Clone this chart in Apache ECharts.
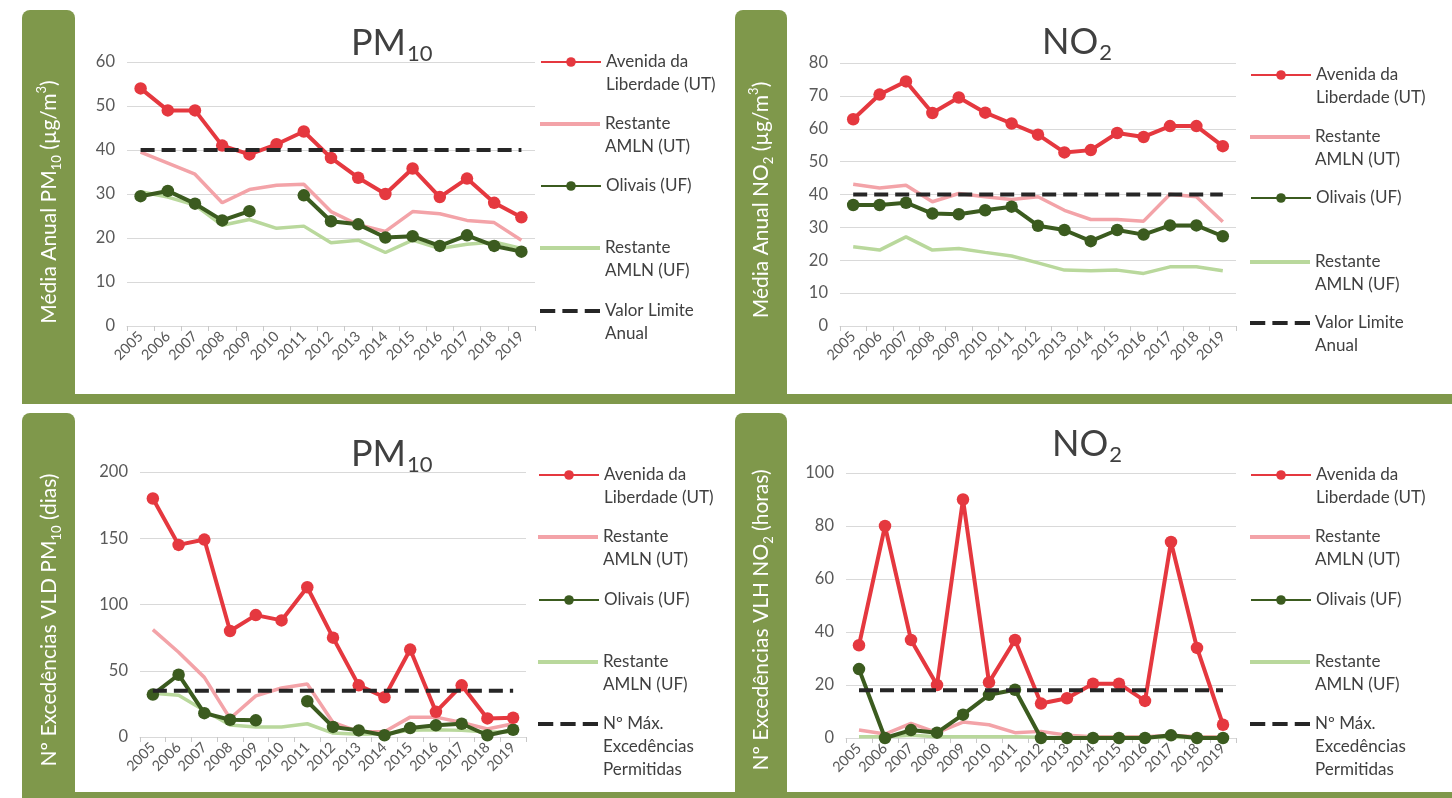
<!DOCTYPE html>
<html>
<head>
<meta charset="utf-8">
<script src="https://cdn.jsdelivr.net/npm/echarts@6/dist/echarts.min.js"></script>
<style>
html,body{margin:0;padding:0;background:#fff;}
#chart{width:1452px;height:798px;}
</style>
</head>
<body>
<div id="chart"></div>
<script>
// ---------- DATA ----------
const years = ['2005','2006','2007','2008','2009','2010','2011','2012','2013','2014','2015','2016','2017','2018','2019'];

// Média anual PM10 (µg/m3)
const pm10AvLib   = [54, 49, 49, 41, 39, 41.3, 44.2, 38.2, 33.7, 30, 35.8, 29.3, 33.5, 28, 24.7];
const pm10RestUT  = [39.5, 37, 34.5, 28, 31, 32, 32.2, 26, 23, 21.5, 26, 25.5, 24, 23.5, 19.5];
const pm10Olivais = [29.5, 30.7, 27.8, 24, 26.1, null, 29.7, 23.8, 23.1, 20.1, 20.4, 18.2, 20.6, 18.2, 16.9];
const pm10RestUF  = [30.5, 29.3, 27.5, 22.9, 24.2, 22.2, 22.7, 18.9, 19.5, 16.7, 19.5, 17.6, 18.6, 19.1, 17.6];
const pm10Limit   = [40, 40, 40, 40, 40, 40, 40, 40, 40, 40, 40, 40, 40, 40, 40];

// Média anual NO2 (µg/m3)
const no2AvLib   = [62.9, 70.4, 74.4, 64.8, 69.5, 64.9, 61.6, 58.2, 52.8, 53.5, 58.7, 57.5, 60.8, 60.8, 54.7];
const no2RestUT  = [43.1, 42, 42.8, 37.8, 40.3, 39.3, 38.5, 39.3, 35.2, 32.4, 32.4, 31.9, 40.1, 39.3, 31.7];
const no2Olivais = [36.8, 36.8, 37.5, 34.2, 34, 35.2, 36.3, 30.5, 29.2, 25.8, 29.2, 27.8, 30.6, 30.6, 27.3];
const no2RestUF  = [24.1, 23.1, 27.1, 23.1, 23.6, 22.4, 21.3, 19.2, 17, 16.8, 17, 16, 18, 18, 16.8];
const no2Limit   = [40, 40, 40, 40, 40, 40, 40, 40, 40, 40, 40, 40, 40, 40, 40];

// Nº excedências VLD PM10 (dias)
const pm10ExAvLib   = [180, 145, 149, 80, 92, 88, 113, 75, 39, 30, 66, 19, 39, 14, 14.5];
const pm10ExRestUT  = [81, 64, 45, 14, 31, 37, 40, 11, 4, 4, 15, 15, 11, 6, 10];
const pm10ExOlivais = [32, 47, 18, 13, 12.6, null, 27, 7.6, 5, 1.3, 6.8, 8.8, 10, 1.3, 5.5];
const pm10ExRestUF  = [33, 31.5, 20, 9, 7.6, 7.6, 10, 3, 2, 2.5, 5, 5.5, 5, 3.8, 3.8];
const pm10ExLimit   = [35, 35, 35, 35, 35, 35, 35, 35, 35, 35, 35, 35, 35, 35, 35];

// Nº excedências VLH NO2 (horas)
const no2ExAvLib   = [35, 80, 37, 20, 90, 21, 37, 13, 15, 20.5, 20.5, 14, 74, 34, 5];
const no2ExRestUT  = [3, 1.5, 5.5, 2, 6, 5, 2, 2.5, 1, 0.5, 0.5, 0.5, 1, 0.5, 0.5];
const no2ExOlivais = [26, 0, 3, 2, 8.8, 16.3, 18.2, 0, 0, 0, 0, 0, 1, 0, 0];
const no2ExRestUF  = [0.5, 0.5, 1, 0.5, 0.5, 0.5, 0.5, 0.3, 0.2, 0.2, 0.2, 0.2, 0.2, 0.2, 0.2];
const no2ExLimit   = [18, 18, 18, 18, 18, 18, 18, 18, 18, 18, 18, 18, 18, 18, 18];

const nameAv = 'Avenida da Liberdade (UT)';
const nameRUT = 'Restante AMLN (UT)';
const nameOl = 'Olivais (UF)';
const nameRUF = 'Restante AMLN (UF)';
const nameLimA = 'Valor Limite Anual';
const nameLimE = 'Nº Máx. Excedências Permitidas';
const legendLines = {};
legendLines[nameAv] = ['Avenida da', 'Liberdade (UT)'];
legendLines[nameRUT] = ['Restante', 'AMLN (UT)'];
legendLines[nameOl] = ['Olivais (UF)'];
legendLines[nameRUF] = ['Restante', 'AMLN (UF)'];
legendLines[nameLimA] = ['Valor Limite', 'Anual'];
legendLines[nameLimE] = ['Nº Máx.', 'Excedências', 'Permitidas'];

// ---------- STYLE ----------
const FONT = 'Lato';
const C_RED = '#E5383F', C_PINK = '#F3A3A8', C_DG = '#3B5B1F', C_LG = '#B9D89C', C_LIM = '#262626';
const GREEN = '#7F984B';
const LH = 23;
const DASH_ICON = 'path://M0,0h15v4h-15z M22,0h15v4h-15z M44,0h15v4h-15z';

const panels = [
  {grid:{left:127, top:62, width:408, height:264}, max:60, interval:10,
   title:['PM','10'], titleLeft:351, titleTop:25,
   data:[pm10AvLib, pm10RestUT, pm10Olivais, pm10RestUF, pm10Limit], lim:nameLimA,
   legLeft:540, legC:[62,124,186,248,311],
   yName:'{n|Média Anual PM}{s|10}{n| (µg/m}{p|3}{n|)}', yNameX:49, yNameY:202},
  {grid:{left:840, top:63, width:396, height:263}, max:80, interval:10,
   title:['NO','2'], titleLeft:1042, titleTop:24,
   data:[no2AvLib, no2RestUT, no2Olivais, no2RestUF, no2Limit], lim:nameLimA,
   legLeft:1250, legC:[75,137,198,262,323],
   yName:'{n|Média Anual NO}{s|2}{n| (µg/m}{p|3}{n|)}', yNameX:761, yNameY:200},
  {grid:{left:140, top:472, width:386, height:265}, max:200, interval:50,
   title:['PM','10'], titleLeft:351, titleTop:436,
   data:[pm10ExAvLib, pm10ExRestUT, pm10ExOlivais, pm10ExRestUF, pm10ExLimit], lim:nameLimE,
   legLeft:538, legC:[475,537,600,662,724],
   yName:'{n|Nº Excedências VLD PM}{s|10}{n| (dias)}', yNameX:49, yNameY:620},
  {grid:{left:846, top:473, width:390, height:265}, max:100, interval:20,
   title:['NO','2'], titleLeft:1052, titleTop:426,
   data:[no2ExAvLib, no2ExRestUT, no2ExOlivais, no2ExRestUF, no2ExLimit], lim:nameLimE,
   legLeft:1250, legC:[475,537,600,662,724],
   yName:'{n|Nº Excedências VLH NO}{s|2}{n| (horas)}', yNameX:761, yNameY:620}
];

const option = {
  animation:false,
  backgroundColor:'#fff',
  textStyle:{fontFamily:FONT},
  grid:[], xAxis:[], yAxis:[], series:[], legend:[], title:[], graphic:[]
};

// green frames
const frames = [
  {x:22, y:10, w:53, h:394, r:[8,8,0,0]},
  {x:22, y:394, w:1430, h:10, r:[0,0,0,6]},
  {x:735, y:10, w:52, h:390, r:[8,8,0,0]},
  {x:22, y:413, w:53, h:385, r:[8,8,0,0]},
  {x:735, y:413, w:52, h:385, r:[8,8,0,0]},
  {x:22, y:792, w:1430, h:6, r:0}
];
frames.forEach(f => option.graphic.push({type:'rect', shape:{x:f.x, y:f.y, width:f.w, height:f.h, r:f.r}, style:{fill:GREEN}, silent:true, z:0}));

panels.forEach((p, i) => {
  option.grid.push(Object.assign({containLabel:false}, p.grid));
  option.xAxis.push({
    type:'category', gridIndex:i, data:years, boundaryGap:true,
    axisLine:{show:true, lineStyle:{color:'#D9D9D9', width:1}},
    axisTick:{show:true, length:5, lineStyle:{color:'#C8C8C8'}},
    axisLabel:{interval:0, rotate:45, fontSize:14.5, color:'#595959', margin:8, fontFamily:FONT},
    splitLine:{show:false}
  });
  option.yAxis.push({
    type:'value', gridIndex:i, min:0, max:p.max, interval:p.interval,
    axisLine:{show:false}, axisTick:{show:false},
    axisLabel:{fontSize:16.5, color:'#595959', margin:12, fontFamily:FONT},
    splitLine:{lineStyle:{color:'#D9D9D9', width:1}}
  });
  const names = [nameAv, nameRUT, nameOl, nameRUF, p.lim];
  const specs = [
    {color:C_RED, width:4, symbol:'circle', size:12.5, z:5},
    {color:C_PINK, width:3.5, symbol:'none', size:0, z:2, icon:'rect'},
    {color:C_DG, width:4, symbol:'circle', size:12.5, z:4},
    {color:C_LG, width:3.5, symbol:'none', size:0, z:3, icon:'rect'},
    {color:C_LIM, width:4, symbol:'none', size:0, z:6, dash:[14,7], icon:DASH_ICON}
  ];
  names.forEach((nm, k) => {
    const s = specs[k];
    option.series.push({
      type:'line', name:nm, xAxisIndex:i, yAxisIndex:i, data:p.data[k],
      symbol:s.symbol, symbolSize:s.size, showSymbol:s.symbol!=='none',
      connectNulls:false, z:s.z,
      lineStyle:{color:s.color, width:s.width, type: s.dash ? s.dash : 'solid'},
      itemStyle:{color:s.color},
      emphasis:{disabled:true}
    });
    const lines = legendLines[nm];
    // blank lines prepended so the first text line sits level with the icon
    const shown = Array(lines.length - 1).fill('').concat(lines);
    const txt = shown.join('\n');
    const itemH = s.icon ? 4 : 12;
    option.legend.push({
      data:[s.icon ? {name:nm, icon:s.icon} : {name:nm}],
      orient:'vertical', left:p.legLeft, top:p.legC[k] - shown.length*LH/2,
      padding:0, itemWidth:60, itemHeight:itemH, itemGap:0,
      selectedMode:false, symbolKeepAspect:false,
      formatter: () => txt,
      textStyle:{fontSize:17, color:'#404040', lineHeight:LH, fontFamily:FONT}
    });
  });
  option.title.push({
    text:'{a|' + p.title[0] + '}{b|' + p.title[1] + '}',
    left:p.titleLeft, top:p.titleTop, padding:0,
    textStyle:{rich:{
      a:{fontSize:36, color:'#404040', fontFamily:FONT, fontWeight:'normal', lineHeight:40, verticalAlign:'top'},
      b:{fontSize:22, color:'#404040', fontFamily:FONT, fontWeight:'normal', lineHeight:24, verticalAlign:'top', padding:[18,0,0,1]}
    }}
  });
  option.graphic.push({
    type:'text', x:p.yNameX, y:p.yNameY, rotation:Math.PI/2, silent:true, z:10,
    style:{text:p.yName, align:'center', verticalAlign:'middle', fill:'#fff',
      rich:{
        n:{fontSize:21, fill:'#fff', fontFamily:FONT, lineHeight:28, verticalAlign:'middle'},
        s:{fontSize:13, fill:'#fff', fontFamily:FONT, lineHeight:14, verticalAlign:'bottom'},
        p:{fontSize:13, fill:'#fff', fontFamily:FONT, lineHeight:14, verticalAlign:'top'}
      }}
  });
});

const chart = echarts.init(document.getElementById('chart'), null, {renderer:'canvas'});
chart.setOption(option);
</script>
</body>
</html>
